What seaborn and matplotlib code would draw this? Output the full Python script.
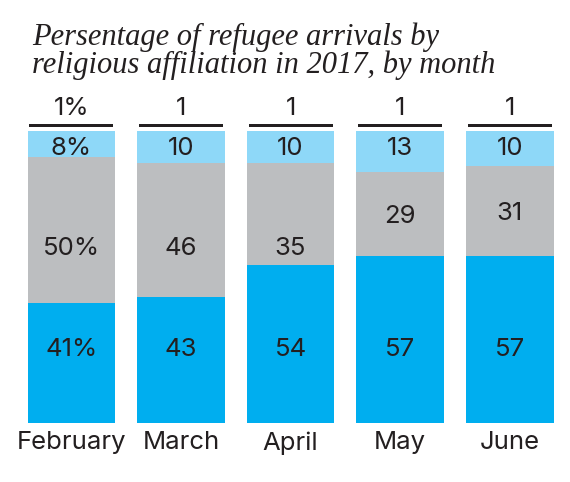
import matplotlib
matplotlib.use("Agg")
import matplotlib.pyplot as plt
import seaborn as sns
import pandas as pd
import numpy as np

# ---- data ----
months = ["February", "March", "April", "May", "June"]
christian = [41, 43, 54, 57, 57]      # bright blue (bottom)
muslim = [50, 46, 35, 29, 31]         # gray (middle)
other_religion = [8, 10, 10, 13, 10]  # light blue (top)
unknown = [1, 1, 1, 1, 1]             # black line above bars
title_lines = ["Persentage of refugee arrivals by",
               "religious affiliation in 2017, by month"]

# ---- style ----
C_BLUE = "#00AEEF"
C_GRAY = "#BCBEC0"
C_LIGHT = "#8ED8F8"
C_BLACK = "#231F20"
TXT = "#231F20"

sns.set_theme(style="white")
plt.rcParams['font.family'] = ['Inter', 'Liberation Sans', 'DejaVu Sans']

fig = plt.figure(figsize=(5.7, 4.82), dpi=100)
ax = fig.add_axes([0.0293, 0.1224, 0.961, 0.667])

df = pd.DataFrame({
    "month": months,
    "christian": christian,
    "muslim": muslim,
    "other": other_religion,
    "unknown": unknown,
})
whole = 100  # bars show the whole of arrivals (100%)
df["cum_muslim"] = df["christian"] + df["muslim"]
df["whole"] = whole
gap = 1.2
df["unknown_bottom"] = whole + gap

common = dict(order=months, errorbar=None, saturation=1, linewidth=0, ax=ax)
# light blue: fills the rest of the 100%
sns.barplot(data=df, x="month", y="whole", color=C_LIGHT, width=0.8, **common)
sns.barplot(data=df, x="month", y="cum_muslim", color=C_GRAY, width=0.8, **common)
sns.barplot(data=df, x="month", y="christian", color=C_BLUE, width=0.8, **common)
# black line for the small remaining share, above a white gap
sns.barplot(data=df, x="month", y="unknown", bottom=df["unknown_bottom"].to_numpy(),
            color=C_BLACK, width=0.767, **common)

ax.set_ylim(0, 110)
ax.set_xlim(-0.5, 4.5)
ax.set_yticks([])
ax.set_xlabel("")
ax.set_ylabel("")
sns.despine(ax=ax, left=True, bottom=True)
fs = 18.5
ax.tick_params(axis="x", length=0, pad=6.0, labelsize=fs, colors=TXT)

# ---- value labels ----
cap_half = 3.15  # half of the cap height, in data units
for i, m in enumerate(months):
    suf = "%" if i == 0 else ""
    # bottom layer
    ax.text(i, 26.2 - cap_half, f"{christian[i]}{suf}", ha="center", va="baseline",
            fontsize=fs, color=TXT)
    # middle layer
    mid = christian[i] + muslim[i] / 2
    gy = min(mid, 60.6) if muslim[i] >= 35 else mid
    ax.text(i, gy - cap_half, f"{muslim[i]}{suf}", ha="center", va="baseline",
            fontsize=fs, color=TXT)
    # top layer
    ax.text(i, 95 - cap_half, f"{other_religion[i]}{suf}", ha="center", va="baseline",
            fontsize=fs, color=TXT)
    # above the black line
    ax.text(i, 108.4 - cap_half, f"{unknown[i]}{suf}", ha="center", va="baseline",
            fontsize=fs, color=TXT)

# ---- title ----
W, H = 570, 482
for k, line in enumerate(title_lines):
    fig.text(31.7 / W, 1 - (45 + 27.5 * k) / H, line, ha="left", va="baseline",
             fontsize=22, style="italic", color=TXT,
             family=["Liberation Serif", "DejaVu Serif"])

fig.savefig("out.png", dpi=100)
